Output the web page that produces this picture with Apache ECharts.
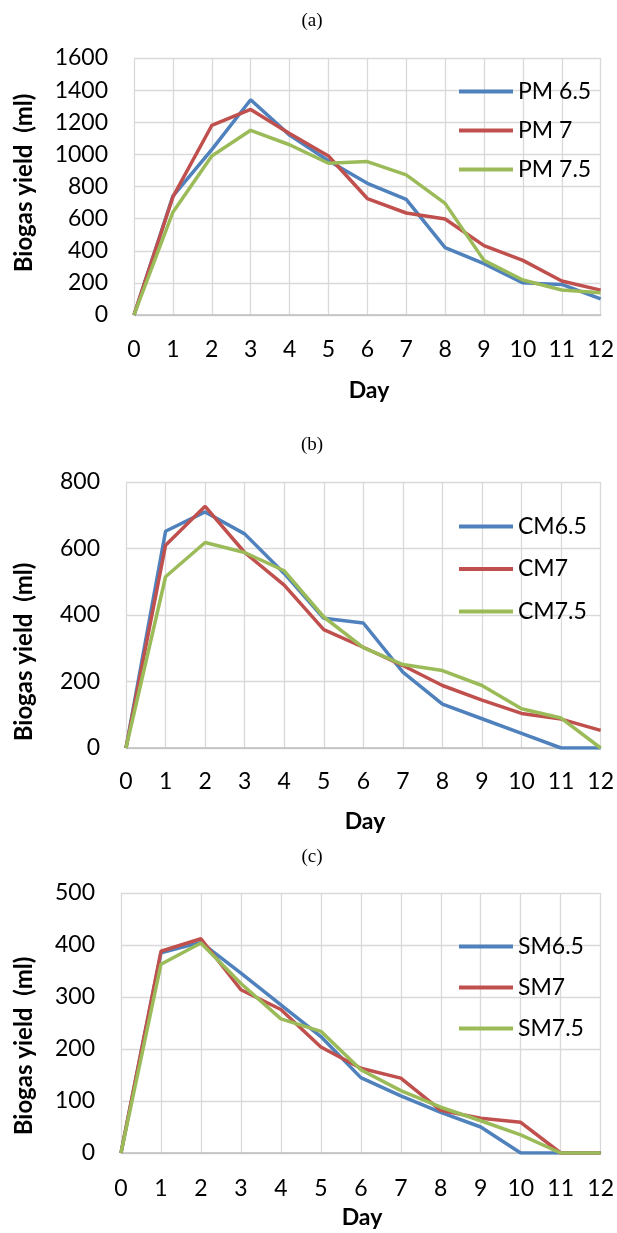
<!DOCTYPE html>
<html>
<head>
<meta charset="utf-8">
<script src="https://cdn.jsdelivr.net/npm/echarts@6/dist/echarts.min.js"></script>
<style>
html,body{margin:0;padding:0;background:#fff;}
#chart{width:617px;height:1233px;}
</style>
</head>
<body>
<div id="chart"></div>
<script>
// ---- data ----
const days = ['0','1','2','3','4','5','6','7','8','9','10','11','12'];

const pmNames = ['PM 6.5', 'PM 7', 'PM 7.5'];
const pm65 = [0, 740, 1030, 1340, 1120, 960, 820, 720, 420, 320, 200, 190, 100];
const pm7  = [0, 735, 1180, 1280, 1130, 990, 725, 635, 598, 432, 340, 212, 155];
const pm75 = [0, 640, 990, 1150, 1060, 945, 955, 872, 695, 340, 218, 156, 138];

const cmNames = ['CM6.5', 'CM7', 'CM7.5'];
const cm65 = [0, 652, 710, 644, 525, 390, 376, 228, 132, 88, 44, 0, 0];
const cm7  = [0, 610, 727, 588, 490, 356, 303, 248, 188, 144, 104, 87, 53];
const cm75 = [0, 515, 618, 588, 533, 394, 302, 251, 233, 188, 118, 90, 0];

const smNames = ['SM6.5', 'SM7', 'SM7.5'];
const sm65 = [0, 385, 405, 346, 285, 224, 145, 110, 78, 50, 0, 0, 0];
const sm7  = [0, 388, 412, 314, 276, 204, 163, 144, 82, 67, 59, 0, 0];
const sm75 = [0, 363, 404, 326, 258, 234, 160, 120, 88, 62, 35, 0, 0];

const yTicks = [
  {min: 0, max: 1600, interval: 200},
  {min: 0, max: 800, interval: 200},
  {min: 0, max: 500, interval: 100}
];

const panelLabels = ['(a)', '(b)', '(c)'];
const xTitle = 'Day';
const yTitle = 'Biogas yield  (ml)';

// ---- styling ----
const colors = ['#4F81BD', '#C0504D', '#9BBB59'];
const FONT = 'Lato, "Noto Sans", sans-serif';
const gridColor = '#D9D9D9';

const grids = [
  {left: 134, right: 13, top: 58, height: 257},
  {left: 126, right: 13, top: 482, height: 266},
  {left: 121, right: 14, top: 893, height: 260}
];
const legendPos = [
  {left: 459, top: 79, gap: 14},
  {left: 459, top: 514, gap: 17.5},
  {left: 459, top: 934, gap: 16}
];
const labelMargins = [23, 22, 24];

const groups = [
  {names: pmNames, values: [pm65, pm7, pm75]},
  {names: cmNames, values: [cm65, cm7, cm75]},
  {names: smNames, values: [sm65, sm7, sm75]}
];

const xAxes = [], yAxes = [], series = [], legends = [];
groups.forEach((g, i) => {
  xAxes.push({
    gridIndex: i, type: 'category', data: days, boundaryGap: false,
    axisLine: {show: true, lineStyle: {color: '#BFBFBF', width: 1.5}},
    axisTick: {show: false},
    axisLabel: {color: '#000', fontFamily: FONT, fontSize: 23, margin: labelMargins[i], interval: 0},
    splitLine: {show: true, lineStyle: {color: gridColor, width: 1.3}}
  });
  yAxes.push({
    gridIndex: i, type: 'value',
    min: yTicks[i].min, max: yTicks[i].max, interval: yTicks[i].interval,
    axisLine: {show: false}, axisTick: {show: false},
    axisLabel: {color: '#000', fontFamily: FONT, fontSize: 23, margin: 26,
                formatter: v => String(v)},
    splitLine: {show: true, lineStyle: {color: gridColor, width: 1.3}}
  });
  g.names.forEach((n, k) => {
    series.push({
      name: n, type: 'line', xAxisIndex: i, yAxisIndex: i,
      data: g.values[k], symbol: 'none', smooth: false,
      lineStyle: {color: colors[k], width: 3.5},
      itemStyle: {color: colors[k]},
      z: 2 + k
    });
  });
  legends.push({
    data: g.names, orient: 'vertical',
    left: legendPos[i].left, top: legendPos[i].top, itemGap: legendPos[i].gap,
    icon: 'rect', itemWidth: 54, itemHeight: 4,
    textStyle: {color: '#000', fontFamily: FONT, fontSize: 23, lineHeight: 25},
    padding: 0, selectedMode: false
  });
});

const graphic = [];
const panelY = [21, 445, 857];
const dayY = [391, 822, 1218];
const yTitleY = [183, 652, 1046];
for (let i = 0; i < 3; i++) {
  graphic.push({
    type: 'text', x: 312, y: panelY[i],
    style: {text: panelLabels[i], font: '19px "Liberation Serif", "Times New Roman", serif',
            fill: '#000', textAlign: 'center', textVerticalAlign: 'middle'}
  });
  const cx = grids[i].left + (617 - grids[i].left - grids[i].right) / 2;
  graphic.push({
    type: 'text', x: cx, y: dayY[i],
    style: {text: xTitle, font: 'bold 23px ' + FONT, fill: '#000',
            textAlign: 'center', textVerticalAlign: 'middle'}
  });
  graphic.push({
    type: 'text', x: 24, y: yTitleY[i], rotation: Math.PI / 2,
    style: {text: yTitle, font: 'bold 24px ' + FONT, fill: '#000',
            textAlign: 'center', textVerticalAlign: 'middle'}
  });
}

const chart = echarts.init(document.getElementById('chart'), null, {renderer: 'canvas'});
chart.setOption({
  animation: false,
  backgroundColor: '#fff',
  grid: grids,
  xAxis: xAxes,
  yAxis: yAxes,
  legend: legends,
  series: series,
  graphic: graphic
});
</script>
</body>
</html>
